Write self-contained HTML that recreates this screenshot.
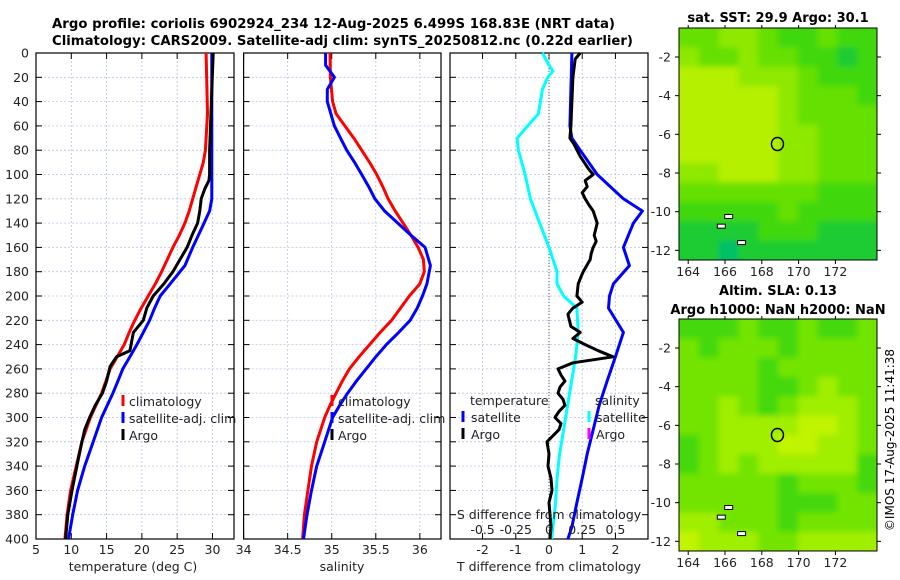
<!DOCTYPE html>
<html><head><meta charset="utf-8"><style>
html,body{margin:0;padding:0;background:#fff;}
svg{display:block;font-family:"DejaVu Sans","Liberation Sans",sans-serif;}
</style></head><body>
<svg id="fig" width="900" height="580" viewBox="0 0 900 580" xmlns="http://www.w3.org/2000/svg">
<defs>
<filter id="blur" x="0" y="0" width="1" height="1"><feGaussianBlur stdDeviation="3"/></filter>
<clipPath id="clipSst"><rect x="679" y="28" width="198" height="232"/></clipPath>
<clipPath id="clipSla"><rect x="679" y="319" width="198" height="232"/></clipPath>
</defs>
<text x="52" y="28" font-size="13" font-weight="bold" textLength="563" lengthAdjust="spacingAndGlyphs">Argo profile: coriolis 6902924_234 12-Aug-2025 6.499S 168.83E (NRT data)</text>
<text x="52" y="45" font-size="13" font-weight="bold" textLength="581" lengthAdjust="spacingAndGlyphs">Climatology: CARS2009. Satellite-adj clim: synTS_20250812.nc (0.22d earlier)</text>
<text x="778" y="22" font-size="13" font-weight="bold" text-anchor="middle">sat. SST: 29.9 Argo: 30.1</text>
<text x="778" y="295" font-size="13" font-weight="bold" text-anchor="middle">Altim. SLA: 0.13</text>
<text x="778" y="314" font-size="13" font-weight="bold" text-anchor="middle">Argo h1000: NaN h2000: NaN</text>
<text x="0" y="0" font-size="12" text-anchor="middle" transform="translate(894,440) rotate(-90)">©IMOS 17-Aug-2025 11:41:38</text>
</svg>
<script>
// ---------- data ----------
const depthTicks=[0,20,40,60,80,100,120,140,160,180,200,220,240,260,280,300,320,340,360,380,400];
const tempTicks=[5,10,15,20,25,30];
const salTicks=[34,34.5,35,35.5,36];
const tdiffTicks=[-2,-1,0,1,2];
const sdiffTickLabels=["-0.5","-0.25","0","0.25","0.5"];
const sdiffTicks=[-0.5,-0.25,0,0.25,0.5];

const climTDepth=[0,50,80,90,100,110,120,130,140,150,160,170,180,190,200,210,220,230,240,250,260,270,280,290,300,320,340,360,380,400];
const climT=[29.1,29.3,29.0,28.7,28.2,27.7,27.2,26.7,26.1,25.3,24.4,23.6,22.8,21.9,20.9,19.9,19.0,18.2,17.5,16.5,15.5,14.9,14.3,13.5,12.7,11.5,10.7,9.9,9.4,9.1];
const satTDepth=[0,120,130,145,160,175,190,200,210,220,230,240,250,260,270,280,290,300,320,340,360,380,400];
const satT=[29.9,29.9,29.6,28.4,27.2,26.1,24.0,22.6,21.8,21.1,20.2,19.3,18.3,17.3,16.6,15.9,15.1,14.3,13.1,11.9,10.9,10.2,9.6];
const argoTDepth=[0,80,100,105,112,120,130,140,150,160,170,180,190,200,210,220,230,245,250,258,270,280,290,300,310,320,340,360,380,400];
const argoT=[30.1,29.6,29.6,29.5,28.9,28.4,28.2,27.9,27.1,26.4,25.4,24.4,23.1,21.6,20.7,20.2,18.8,18.3,16.4,15.5,15.0,14.4,13.4,12.6,11.9,11.5,10.8,10.1,9.5,9.2];

const climSDepth=[0,20,40,50,60,70,80,90,100,110,120,130,140,150,160,170,180,190,200,210,220,230,240,250,260,270,280,290,300,320,340,360,380,400];
const climS=[34.98,34.985,35.01,35.05,35.15,35.25,35.34,35.43,35.51,35.58,35.64,35.72,35.81,35.9,35.98,36.04,36.05,36.0,35.88,35.78,35.68,35.55,35.43,35.31,35.2,35.12,35.05,34.98,34.92,34.83,34.77,34.73,34.69,34.67];
const satSDepth=[0,10,20,30,40,60,70,80,90,100,110,120,130,140,150,160,175,190,200,210,220,230,240,250,260,270,280,290,300,320,340,360,380,400];
const satS=[34.93,34.93,35.03,34.95,34.95,35.03,35.1,35.17,35.26,35.34,35.42,35.49,35.6,35.75,35.9,36.06,36.12,36.08,36.03,35.97,35.89,35.76,35.62,35.5,35.39,35.28,35.18,35.09,35.01,34.92,34.83,34.77,34.72,34.68];

const dTDepth=[0,60,70,80,100,120,130,140,160,175,190,200,210,230,250,270,290,310,330,350,370,390,400];
const dTsat=[0.69,0.63,0.69,0.94,1.45,2.24,2.81,2.54,2.24,2.42,1.94,1.82,1.79,2.24,2.0,1.75,1.51,1.33,1.15,1.0,0.84,0.69,0.57];
const dSDepth=[0,10,15,20,30,50,60,70,80,100,120,140,160,180,190,200,210,230,250,270,290,310,330,350,370,390,400];
const dSsat=[-0.05,0.0,0.03,-0.01,-0.05,-0.08,-0.16,-0.24,-0.23,-0.18,-0.14,-0.07,0.0,0.06,0.06,0.11,0.21,0.22,0.2,0.17,0.14,0.11,0.08,0.06,0.05,0.03,0.02];
const dTArgoDepth=[0,5,20,60,70,75,85,95,100,105,110,115,120,125,130,140,150,155,160,165,170,180,185,190,200,205,210,215,225,230,235,240,245,250,255,260,265,270,275,280,285,290,295,300,305,310,315,320,330,340,350,360,370,380,390,400];
const dTArgo=[0.94,0.79,0.72,0.66,0.63,0.75,0.94,1.18,1.33,1.09,1.15,1.0,1.09,1.2,1.33,1.45,1.36,1.42,1.33,1.27,1.24,1.03,0.95,0.88,0.84,1.0,0.72,0.57,0.66,0.94,0.72,1.09,1.48,1.93,0.72,0.27,0.36,0.48,0.33,0.27,0.42,0.48,0.3,0.18,0.36,0.3,0.12,-0.06,0.0,-0.03,0.06,0.09,0.0,0.03,0.06,0.03];

const mapLonTicks=[164,166,168,170,172];
const mapLatTicks=[-2,-4,-6,-8,-10,-12];
const sstGrid=[
"2211233233","1221223343","0001112333","0000012223","0000012222","0000011222",
"0000011222","1100011222","2222222333","3333323333","4444333444","4454444444"];
const slaGrid=[
"3332332332","2322232222","2222322222","2222332122","2212321112","2211110012",
"3211100112","3212111113","2222232223","2222233322","1122232222","0111221111"];
const sstColors=["#b4f000","#8ee800","#66e000","#40d810","#1ccc30","#00bf66"];
const slaColors=["#c0f400","#a0ee00","#72e400","#44d810"];
const argoLon=[168.85], argoLat=[-6.5];

// ---------- drawing ----------
const svg=document.getElementById('fig');
const NS='http://www.w3.org/2000/svg';
function mk(tag,attrs,parent){const e=document.createElementNS(NS,tag);for(const k in attrs)e.setAttribute(k,attrs[k]);(parent||svg).appendChild(e);return e;}
const Y0=53,Y1=539;
const yDepth=d=>Y0+(d/400)*(Y1-Y0);

function panel(name,x0,x1,xmin,xmax,ticks,labels,showY){
  const g=mk('g',{});
  
  
  const sx=v=>x0+(v-xmin)/(xmax-xmin)*(x1-x0);
  depthTicks.forEach(d=>{
    const y=yDepth(d);
    if(d>0&&d<400){const l=mk('line',{x1:x0,x2:x1,y1:y,y2:y,stroke:'#b8c4e8','stroke-width':0.8,'stroke-dasharray':'2,2'},g);
      }
    mk('line',{x1:x0,x2:x0+6,y1:y,y2:y,stroke:'#000'},g);
    mk('line',{x1:x1-6,x2:x1,y1:y,y2:y,stroke:'#000'},g);
    if(showY){const t=mk('text',{x:x0-7,y:y+4.5,'font-size':12.5,'text-anchor':'end',fill:'#222'},g);t.textContent=d;
      }
  });
  ticks.forEach((v,i)=>{
    const x=sx(v);
    if(x>x0+1&&x<x1-1){const l=mk('line',{x1:x,x2:x,y1:Y0,y2:Y1,stroke:'#b8c4e8','stroke-width':0.8,'stroke-dasharray':'2,2'},g);
      }
    mk('line',{x1:x,x2:x,y1:Y0,y2:Y0+6,stroke:'#000'},g);
    mk('line',{x1:x,x2:x,y1:Y1-6,y2:Y1,stroke:'#000'},g);
    if(labels){const t=mk('text',{x:x,y:554,'font-size':12.5,'text-anchor':'middle',fill:'#222'},g);t.textContent=labels[i];
      }
  });
  const r=mk('rect',{x:x0,y:Y0,width:x1-x0,height:Y1-Y0,fill:'none',stroke:'#000','stroke-width':1.2},g);
  
  return {g,sx};
}
function line(p,vals,depths,color,name,w){
  const pts=vals.map((v,i)=>p.sx(v).toFixed(1)+','+yDepth(depths[i]).toFixed(1)).join(' ');
  const l=mk('polyline',{points:pts,fill:'none',stroke:color,'stroke-width':w||3,'stroke-linejoin':'round'},p.g);
  
  
}
function txt(s,x,y,name,attrs){const t=mk('text',Object.assign({x:x,y:y,'font-size':12.5,fill:'#222'},attrs||{}));t.textContent=s;
  return t;}
function legMark(x,y,color,name){const l=mk('line',{x1:x,x2:x,y1:y-6,y2:y+5,stroke:color,'stroke-width':3});
  }

// Panel 1 temperature
const p1=panel('temperature-panel',36,234,5,33.05,tempTicks,tempTicks.map(String),true);
line(p1,climT,climTDepth,'#ff0000','climatology-temperature-line');
line(p1,satT,satTDepth,'#0000ff','satellite-temperature-line');
line(p1,argoT,argoTDepth,'#000000','argo-temperature-line');
txt('temperature (deg C)',133,571,'temperature-axis-title',{'text-anchor':'middle'});
[['climatology','#ff0000'],['satellite-adj. clim','#0000ff'],['Argo','#000']].forEach((e,i)=>{
  const y=401+i*17;legMark(123,y,e[1],'temp-legend-marker');txt(e[0],129,y+5,'temp-legend-entry');});

// Panel 2 salinity
const p2=panel('salinity-panel',243.6,441,34,36.24,salTicks,salTicks.map(String),false);
line(p2,climS,climSDepth,'#ff0000','climatology-salinity-line');
line(p2,satS,satSDepth,'#0000ff','satellite-salinity-line');
txt('salinity',342,571,'salinity-axis-title',{'text-anchor':'middle'});
[['climatology','#ff0000'],['satellite-adj. clim','#0000ff'],['Argo','#000']].forEach((e,i)=>{
  const y=401+i*17;legMark(332,y,e[1],'sal-legend-marker');txt(e[0],338,y+5,'sal-legend-entry');});

// Panel 3 differences
const p3=panel('difference-panel',450,648,-2.98,2.98,tdiffTicks,tdiffTicks.map(String),false);
const zl=mk('line',{x1:p3.sx(0),x2:p3.sx(0),y1:Y0,y2:Y1,stroke:'#555','stroke-width':1,'stroke-dasharray':'1,2'},p3.g);

line(p3,dSsat.map(v=>v*4),dSDepth,'#00ffff','salinity-satellite-diff-line');
line(p3,dTsat,dTDepth,'#0000ff','temperature-satellite-diff-line');
line(p3,dTArgo,dTArgoDepth,'#000000','temperature-argo-diff-line');
txt('temperature',470,405,'diff-legend-temp-heading');
txt('salinity',595,405,'diff-legend-sal-heading');
legMark(463,417,'#0000ff','diff-legend-marker');txt('satellite',471,422,'diff-legend-entry');
legMark(463,434,'#000','diff-legend-marker');txt('Argo',471,439,'diff-legend-entry');
legMark(589,417,'#00ffff','diff-legend-marker');txt('satellite',596,422,'diff-legend-entry');
legMark(589,434,'#ff00ff','diff-legend-marker');txt('Argo',596,439,'diff-legend-entry');
txt('S difference from climatology',549,519,'s-diff-axis-title',{'text-anchor':'middle'});
sdiffTicks.forEach((v,i)=>txt(sdiffTickLabels[i],p3.sx(v*4),534,'s-diff-tick-label',{'text-anchor':'middle'}));
txt('T difference from climatology',549,571,'t-diff-axis-title',{'text-anchor':'middle'});

// Maps
function map(name,top,grid,colors,clipId){
  const x0=679,x1=877,y0=top,y1=top+232;
  const lonMin=163.5,lonMax=174.26,latTop=-0.5,latBot=-12.5;
  const sx=v=>x0+(v-lonMin)/(lonMax-lonMin)*(x1-x0);
  const sy=v=>y0+(latTop-v)/(latTop-latBot)*(y1-y0);
  const g=mk('g',{});
  
  const cg=mk('g',{'clip-path':'url(#'+clipId+')'},g);
  const bg=mk('g',{filter:'url(#blur)'},cg);
  const rows=grid.length,cols=grid[0].length,cw=(x1-x0)/cols,ch=(y1-y0)/rows;
  grid.forEach((row,r)=>{for(let c=0;c<cols;c++){
    const ex0=c===0?-8:0, ex1=c===cols-1?8:0, ey0=r===0?-8:0, ey1=r===rows-1?8:0;
    mk('rect',{x:x0+c*cw+ex0,y:y0+r*ch+ey0,width:cw+0.5-ex0+ex1,height:ch+0.5-ey0+ey1,fill:colors[+row[c]]},bg);}});
  mk('rect',{x:x0,y:y0,width:x1-x0,height:y1-y0,fill:'none',stroke:'#000','stroke-width':1},g);
  mapLatTicks.forEach(v=>{const y=sy(v);
    mk('line',{x1:x0-4,x2:x0,y1:y,y2:y,stroke:'#000'},g);mk('line',{x1:x1,x2:x1+4,y1:y,y2:y,stroke:'#000'},g);
    const t=mk('text',{x:x0-8,y:y+4.5,'font-size':12.5,'text-anchor':'end',fill:'#222'},g);t.textContent=v;
    });
  mapLonTicks.forEach(v=>{const x=sx(v);
    mk('line',{x1:x,x2:x,y1:y1,y2:y1+4,stroke:'#000'},g);mk('line',{x1:x,x2:x,y1:y0-3,y2:y0,stroke:'#000'},g);
    const t=mk('text',{x:x,y:y1+16,'font-size':12.5,'text-anchor':'middle',fill:'#222'},g);t.textContent=v;
    });
  [[165.8,-10.75],[166.9,-11.6],[166.2,-10.25]].forEach(p=>mk('rect',{x:sx(p[0])-4,y:sy(p[1])-2,width:8,height:4,fill:'#fff',stroke:'#000','stroke-width':1},g));
  const c=mk('ellipse',{cx:sx(argoLon[0]),cy:sy(argoLat[0]),rx:6,ry:6.5,fill:'none',stroke:'#000','stroke-width':1.5},g);
  
}
map('sst-map',28,sstGrid,sstColors,'clipSst');
map('sla-map',319,slaGrid,slaColors,'clipSla');
</script>
</body></html>
